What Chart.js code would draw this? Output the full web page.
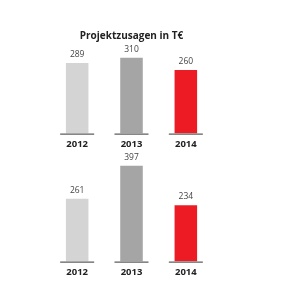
<!DOCTYPE html>
<html>
<head>
<meta charset="utf-8">
<script src="https://cdn.jsdelivr.net/npm/chart.js@4"></script>
<style>
  body { margin: 0; background: #fff; }
  .box { position: absolute; left: 0; width: 300px; height: 150px; }
</style>
</head>
<body>
<div class="box" style="top:5px"><canvas id="top" width="300" height="150"></canvas></div>
<div class="box" style="top:133px"><canvas id="bottom" width="300" height="150"></canvas></div>
<script>
const years = ['2012', '2013', '2014']
const zusagen = [289, 310, 260]
const second = [261, 397, 234]
const barColors = ['#d4d4d4', '#a5a5a5', '#ed1c24']

// value labels above the bars and a short base line under each bar
const barDecor = {
  id: 'barDecor',
  afterDatasetsDraw(chart) {
    const ctx = chart.ctx
    const base = chart.scales.y.getPixelForValue(0)
    ctx.save()
    chart.getDatasetMeta(0).data.forEach((bar, i) => {
      ctx.strokeStyle = '#5e5e5e'
      ctx.lineWidth = 1.2
      ctx.beginPath()
      ctx.moveTo(bar.x - 17, base + 0.5)
      ctx.lineTo(bar.x + 17, base + 0.5)
      ctx.stroke()
      ctx.fillStyle = '#444'
      ctx.font = '8.5px "Open Sans"'
      ctx.textAlign = 'center'
      ctx.textBaseline = 'bottom'
      ctx.fillText(chart.data.datasets[0].data[i], bar.x, bar.y - 4)
    })
    ctx.restore()
  },
}

function makeChart(id, values, max, title) {
  return new Chart(document.getElementById(id), {
    type: 'bar',
    data: {
      labels: years,
      datasets: [{ data: values, backgroundColor: barColors, barPercentage: 0.415, categoryPercentage: 1 }],
    },
    options: {
      responsive: false,
      animation: false,
      layout: { padding: { left: 50, right: 87, top: 8, bottom: 0 } },
      plugins: {
        legend: { display: false },
        tooltip: { enabled: false },
        title: {
          display: !!title,
          text: title,
          color: '#222',
          font: { family: '"Open Sans"', size: 10, weight: 'bold' },
          padding: { top: 17, bottom: 6 },
        },
      },
      scales: {
        y: { display: false, min: 0, max },
        x: {
          grid: { display: false, drawTicks: false },
          border: { display: false },
          ticks: { color: '#222', padding: 5, font: { family: '"Open Sans"', size: 9.5, weight: 'bold' } },
        },
      },
    },
    plugins: [barDecor],
  })
}

makeChart('top', zusagen, 350, 'Projektzusagen in T€')
makeChart('bottom', second, 500)
</script>
</body>
</html>
